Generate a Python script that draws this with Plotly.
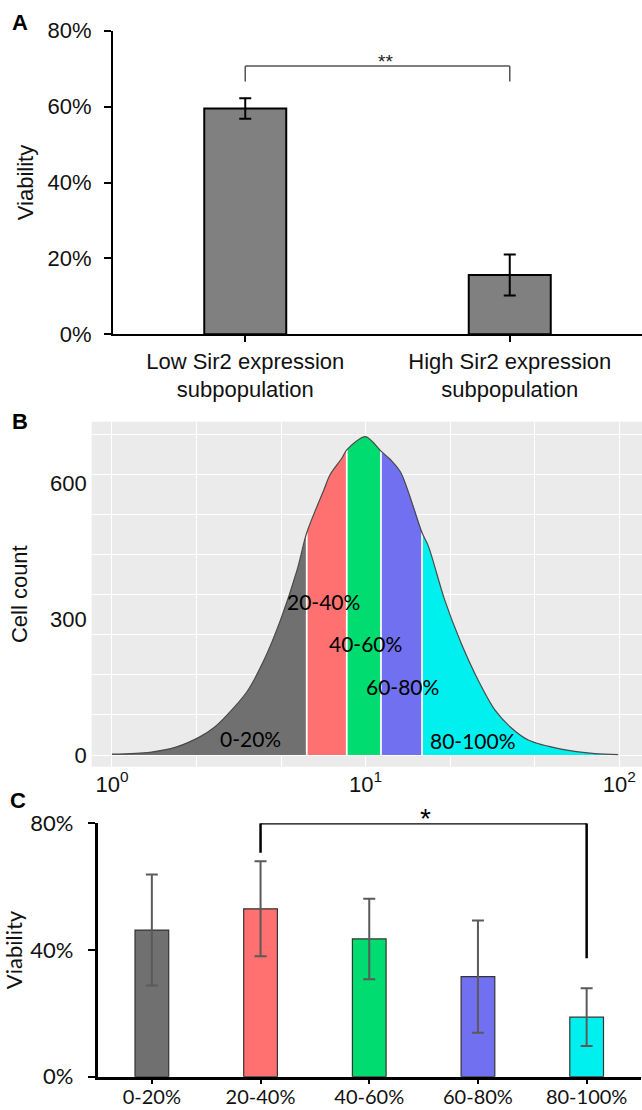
import numpy as np
import plotly.graph_objects as go

# ---------------- data ----------------
# Panel A
cats_a = ["Low Sir2 expression<br>subpopulation", "High Sir2 expression<br>subpopulation"]
vals_a = [59.5, 15.6]
err_a = [2.7, 5.4]
ticks_a = [0, 20, 40, 60, 80]

# Panel B: cell-count distribution vs Sir2 fluorescence (log x)
intensity = [1.00, 1.41, 1.80, 2.22, 2.52, 2.84, 3.41, 3.98, 4.62, 5.37, 5.86,
             6.85, 7.24, 8.07, 8.43, 10.0, 11.5, 12.6, 13.8, 16.7, 17.7, 20.5,
             23.8, 27.8, 32.4, 37.5, 43.8, 59.0, 80.2, 99.1]
counts = [2, 6, 18, 40, 60, 88, 140, 210, 298, 408, 490,
          585, 618, 655, 673, 702, 670, 650, 622, 490, 460, 342,
          247, 165, 99, 60, 33, 13, 3, 1]
cuts = [5.86, 8.43, 11.5, 16.7]
bins = ["0-20%", "20-40%", "40-60%", "60-80%", "80-100%"]
bin_colors = ["#707070", "#FF7070", "#00DC70", "#7070F0", "#00F0F0"]
ticks_b_y = [0, 300, 600]
ticks_b_x = [1, 10, 100]

# Panel C
vals_c = [46.3, 53.0, 43.5, 31.6, 18.8]
err_c = [17.5, 15.0, 12.7, 17.7, 9.1]
ticks_c = [0, 40, 80]

# ---------------- layout helpers ----------------
W, H = 642, 1110
def fx(px):
    return px / W
def fy(py):
    return 1 - py / H

fig = go.Figure()

# Panel A bars
fig.add_trace(go.Bar(
    x=cats_a, y=vals_a, xaxis="x", yaxis="y", width=0.31,
    marker=dict(color="#808080", line=dict(color="black", width=2)),
    error_y=dict(type="data", array=err_a, color="black", thickness=2, width=6),
    showlegend=False, hoverinfo="skip"))

# Panel B segments
x_arr = np.array(intensity)
y_arr = np.array(counts)
edges = [x_arr[0]] + cuts + [x_arr[-1]]
for i, (lab, col) in enumerate(zip(bins, bin_colors)):
    m = (x_arr >= edges[i] - 1e-9) & (x_arr <= edges[i + 1] + 1e-9)
    fig.add_trace(go.Scatter(
        x=x_arr[m], y=y_arr[m], xaxis="x2", yaxis="y2", mode="lines",
        line=dict(color=col, width=0, shape="spline", smoothing=0.8),
        fill="tozeroy", fillcolor=col, showlegend=False, hoverinfo="skip"))
# white separators at cuts
for c in cuts:
    yc = y_arr[np.argmin(np.abs(x_arr - c))]
    fig.add_trace(go.Scatter(
        x=[c, c], y=[0, yc], xaxis="x2", yaxis="y2", mode="lines",
        line=dict(color="white", width=1.8), showlegend=False, hoverinfo="skip"))
# outline
fig.add_trace(go.Scatter(
    x=x_arr, y=y_arr, xaxis="x2", yaxis="y2", mode="lines",
    line=dict(color="#4a4a4a", width=1.2, shape="spline", smoothing=0.8),
    showlegend=False, hoverinfo="skip"))

# Panel C bars
fig.add_trace(go.Bar(
    x=bins, y=vals_c, xaxis="x3", yaxis="y3", width=0.31,
    marker=dict(color=bin_colors, line=dict(color="#333333", width=1.2)),
    error_y=dict(type="data", array=err_c, color="#5a5a5a", thickness=2, width=6),
    showlegend=False, hoverinfo="skip"))

sans = "Liberation Sans, Arial, sans-serif"
cal = "Lato, Carlito, sans-serif"

grid_x = [10 ** (k / 3) for k in range(0, 7)]
grid_y = list(np.arange(0, 735, 88.3))

fig.update_layout(
    width=W, height=H, autosize=False,
    margin=dict(l=0, r=0, t=0, b=0, autoexpand=False),
    paper_bgcolor="white", plot_bgcolor="rgba(0,0,0,0)",
    # ---- Panel A ----
    xaxis=dict(domain=[fx(113), 1.0], anchor="y", type="category", range=[-0.5, 1.5],
               showline=True, linecolor="black", linewidth=2,
               ticks="outside", ticklen=6, tickwidth=2, tickcolor="black",
               tickfont=dict(family=sans, size=22, color="#111"),
               ticklabelstandoff=0, showgrid=False, zeroline=False, automargin=False),
    yaxis=dict(domain=[fy(334.3), fy(30.7)], anchor="x", range=[0, 80],
               tickvals=ticks_a, ticktext=[f"{v}%" for v in ticks_a],
               showline=True, linecolor="black", linewidth=2,
               ticks="outside", ticklen=7, tickwidth=2, tickcolor="black",
               tickfont=dict(family=sans, size=22, color="#111"),
               ticklabelstandoff=8, showgrid=False, zeroline=False, automargin=False,
               title=dict(text="Viability", font=dict(family=sans, size=22, color="#111"),
                          standoff=8)),
    # ---- Panel B ----
    xaxis2=dict(domain=[fx(91.7), 1.0], anchor="y2", type="log", range=[-0.08, 2.09],
                tickvals=ticks_b_x,
                ticktext=["10<sup>0</sup>", "10<sup>1</sup>", "10<sup>2</sup>"],
                ticks="", showline=False, showgrid=False, zeroline=False,
                tickfont=dict(family=sans, size=22, color="#111"),
                ticklabelstandoff=2, automargin=False,
                minor=dict(tickvals=grid_x, showgrid=True, gridcolor="white",
                           gridwidth=1.3, ticks="")),
    yaxis2=dict(domain=[fy(766.7), fy(421.7)], anchor="x2", range=[-25.8, 735],
                tickvals=ticks_b_y, ticks="", showline=False, showgrid=False,
                zeroline=False, tickfont=dict(family=sans, size=22, color="#111"),
                ticklabelstandoff=4, automargin=False,
                minor=dict(tickvals=grid_y, showgrid=True, gridcolor="white",
                           gridwidth=1.3, ticks=""),
                title=dict(text="Cell count", font=dict(family=sans, size=22, color="#111"),
                           standoff=16)),
    # ---- Panel C ----
    xaxis3=dict(domain=[fx(97.5), fx(641)], anchor="y3", type="category", range=[-0.5, 4.5],
                showline=True, linecolor="black", linewidth=2.5,
                ticks="outside", ticklen=5, tickwidth=2, tickcolor="black",
                tickfont=dict(family=cal, size=20, color="#111"),
                ticklabelstandoff=-4, showgrid=False, zeroline=False, automargin=False),
    yaxis3=dict(domain=[fy(1076.7), fy(823.3)], anchor="x3", range=[0, 80],
                tickvals=ticks_c, ticktext=[f"{v}%" for v in ticks_c],
                showline=True, linecolor="black", linewidth=2.5,
                ticks="outside", ticklen=7, tickwidth=2, tickcolor="black",
                tickfont=dict(family=cal, size=22, color="#111"),
                ticklabelstandoff=10, showgrid=False, zeroline=False, automargin=False,
                title=dict(text="Viability", font=dict(family=cal, size=22, color="#111"),
                           standoff=2)),
)

shapes = []
# Panel B gray background
shapes.append(dict(type="rect", xref="x2 domain", yref="y2 domain", x0=0, x1=1, y0=0, y1=1,
                   fillcolor="#EBEBEB", line=dict(width=0), layer="below"))
# Panel A significance bracket
br_a = dict(color="#555555", width=1.5)
shapes += [
    dict(type="line", xref="x", yref="y", x0=0, x1=1, y0=70.7, y1=70.7, line=br_a),
    dict(type="line", xref="x", yref="y", x0=0, x1=0, y0=70.7, y1=66.6, line=br_a),
    dict(type="line", xref="x", yref="y", x0=1, x1=1, y0=70.7, y1=66.6, line=br_a),
]
# Panel C significance bracket
br_c = dict(color="black", width=2.5)
shapes += [
    dict(type="line", xref="x3", yref="y3", x0=1, x1=4, y0=80, y1=80, line=br_c),
    dict(type="line", xref="x3", yref="y3", x0=1, x1=1, y0=80, y1=70.7, line=br_c),
    dict(type="line", xref="x3", yref="y3", x0=4, x1=4, y0=80, y1=37.4, line=br_c),
]
fig.update_layout(shapes=shapes)

ann = []
# panel letters
for lab, px, py in [("A", 20, 22), ("B", 20, 421), ("C", 18, 800)]:
    ann.append(dict(text=lab, xref="paper", yref="paper", x=fx(px), y=fy(py),
                    xanchor="center", yanchor="middle", showarrow=False,
                    font=dict(family=sans, size=22, color="black", weight="bold")))
# significance stars
ann.append(dict(text="**", xref="x", yref="y", x=0.53, y=71.8, showarrow=False,
                xanchor="center", yanchor="middle",
                font=dict(family=sans, size=19, color="#222")))
ann.append(dict(text="*", xref="x3", yref="y3 domain", x=2.52, y=1.02, showarrow=False,
                xanchor="center", yanchor="middle",
                font=dict(family=sans, size=28, color="black")))
# segment labels in panel B
seg_pos = [(0.547, 37), (0.836, 338), (1.001, 246), (1.144, 151), (1.424, 33)]
for lab, (lx, ly) in zip(bins, seg_pos):
    ann.append(dict(text=lab, xref="x2", yref="y2", x=lx, y=ly, showarrow=False,
                    xanchor="center", yanchor="middle",
                    font=dict(family=cal, size=21, color="black")))
fig.update_layout(annotations=ann)

fig.write_html("out.html", config={"displayModeBar": False},
               post_script="document.body.style.margin='0';document.body.style.overflow='hidden';")
